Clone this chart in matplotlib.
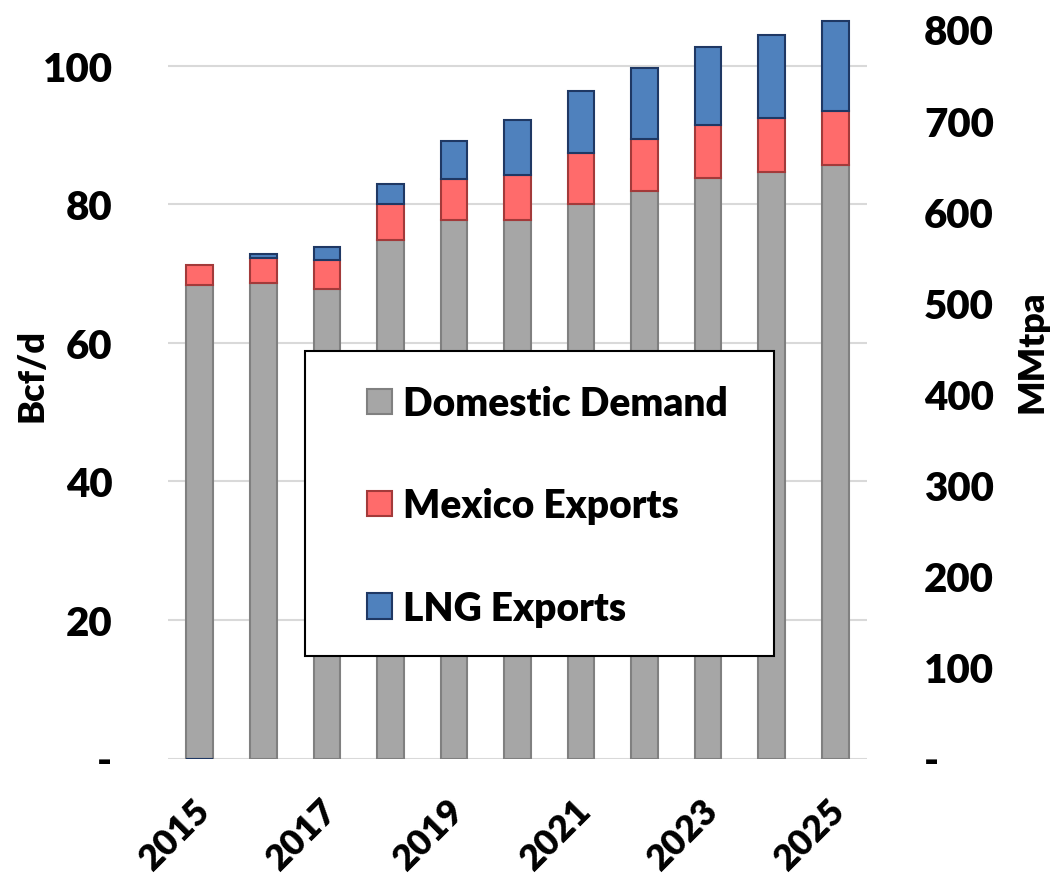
import matplotlib
matplotlib.use("Agg")
import matplotlib.pyplot as plt
import matplotlib.transforms as mtransforms
import numpy as np
from matplotlib.patches import Rectangle, Patch

plt.rcParams['font.family'] = ['Lato', 'DejaVu Sans']
plt.rcParams['font.weight'] = 'heavy'

# --- données (Bcf/d) ---
years = [2015, 2016, 2017, 2018, 2019, 2020, 2021, 2022, 2023, 2024, 2025]
domestic = [68.4, 68.7, 67.8, 74.9, 77.8, 77.8, 80.1, 82.0, 83.8, 84.7, 85.7]
mexico = [2.9, 3.6, 4.2, 5.2, 5.8, 6.5, 7.3, 7.5, 7.7, 7.8, 7.8]
lng = [-0.1, 0.5, 1.8, 2.9, 5.6, 7.9, 9.0, 10.2, 11.2, 12.0, 13.0]
left_ticks = [0, 20, 40, 60, 80, 100]
right_ticks = [0, 100, 200, 300, 400, 500, 600, 700, 800]
BCF_TO_MTPA = 7.6

x = np.arange(len(years))
dom = np.array(domestic)
mex = np.array(mexico)
lng_a = np.array(lng)
lng_bottom = np.where(lng_a < 0, 0, dom + mex)

fig = plt.figure(figsize=(10.51, 8.78), dpi=100)
ax = fig.add_axes([168 / 1051, 1 - 759.5 / 878, 699 / 1051, 748 / 878])

w = 0.42
ax.bar(x, dom, w, color='#a6a6a6', edgecolor='#808080', lw=1.5, zorder=3)
ax.bar(x, mex, w, bottom=dom, color='#ff6b6b', edgecolor='#a33a3a', lw=1.5, zorder=3)
ax.bar(x, lng_a, w, bottom=lng_bottom, color='#4f81bd', edgecolor='#1f3864', lw=1.5, zorder=3)

ymax = 108
ax.set_xlim(-0.5, len(years) - 0.5)
ax.set_ylim(0, ymax)
ax.set_yticks(left_ticks)
ax.set_yticklabels(['-' if t == 0 else str(t) for t in left_ticks])
ax.grid(axis='y', color='#d9d9d9', lw=1.5, zorder=0)
ax.set_axisbelow(True)
for s in ax.spines.values():
    s.set_visible(False)
ax.tick_params(axis='y', length=0, pad=40, labelsize=29)

ax.set_xticks(x[::2])
ax.set_xticklabels([str(y) for y in years[::2]], rotation=45, ha='right',
                   va='center', rotation_mode='anchor', fontsize=26)
ax.tick_params(axis='x', length=0, pad=33)
shift = mtransforms.ScaledTranslation(5 / 100, 0, fig.dpi_scale_trans)
for lab in ax.get_xticklabels():
    lab.set_transform(lab.get_transform() + shift)

# axe secondaire MMtpa
ax2 = ax.twinx()
ax2.set_ylim(0, ymax * BCF_TO_MTPA)
ax2.set_yticks(right_ticks)
ax2.set_yticklabels(['-' if t == 0 else str(t) for t in right_ticks])
for s in ax2.spines.values():
    s.set_visible(False)
ax2.tick_params(axis='y', length=0, pad=41, labelsize=29)

fig.text(32 / 1051, 1 - 375 / 878, 'Bcf/d', rotation=90, ha='center',
         va='center', fontsize=26)
fig.text(1032 / 1051, 1 - 352 / 878, 'MMtpa', rotation=90, ha='center',
         va='center', fontsize=26)

# légende
fig.add_artist(Rectangle((305 / 1051, 1 - 657 / 878), 469 / 1051, 305 / 878,
                         transform=fig.transFigure, fc='white', ec='black',
                         lw=1.5, zorder=4))
handles = [Patch(fc='#a6a6a6', ec='#808080', lw=1.5),
           Patch(fc='#ff6b6b', ec='#a33a3a', lw=1.5),
           Patch(fc='#4f81bd', ec='#1f3864', lw=1.5)]
fig.legend(handles, ['Domestic Demand', 'Mexico Exports', 'LNG Exports'],
           loc='upper left', bbox_to_anchor=(367 / 1051, 1 - 386 / 878),
           frameon=False, fontsize=28, handlelength=0.63, handleheight=0.63,
           handletextpad=0.3, labelspacing=1.68, borderpad=0, borderaxespad=0)

fig.savefig('out.png', dpi=100)
